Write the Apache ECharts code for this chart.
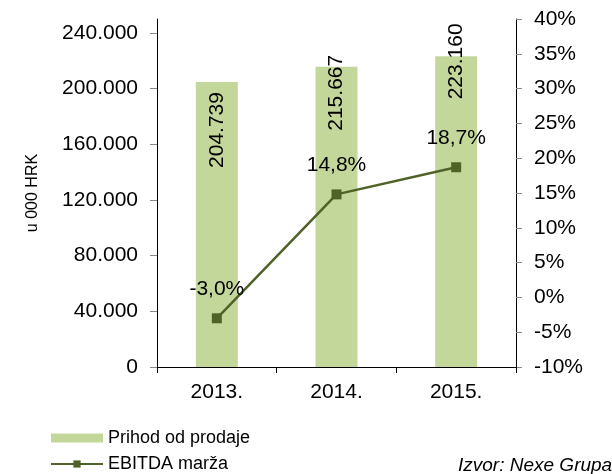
<!DOCTYPE html>
<html>
<head>
<meta charset="utf-8">
<script src="https://cdn.jsdelivr.net/npm/echarts@6/dist/echarts.min.js"></script>
<style>
  html, body { margin: 0; padding: 0; background: #fff; }
  #chart { width: 612px; height: 474px; }
</style>
</head>
<body>
<div id="chart"></div>
<script>
const years = ['2013.', '2014.', '2015.']
const revenue = [204739, 215667, 223160]
const ebitdaMargin = [-3.0, 14.8, 18.7]
const revenueName = 'Prihod od prodaje'
const marginName = 'EBITDA marža'
const leftTicks = [0, 40000, 80000, 120000, 160000, 200000, 240000]

// label offset from bar top (px), labels in the original are placed by hand
const barLabelTop = [48, 26, 5]

const FONT = '"Liberation Sans", Arial, sans-serif'
const BAR_COLOR = '#c4d79b'
const LINE_COLOR = '#4f6228'

function formatThousands(value) {
  return String(value).replace(/\B(?=(\d{3})+(?!\d))/g, '.')
}

let chart = echarts.init(document.getElementById('chart'))

chart.setOption({
  backgroundColor: '#fff',
  animation: false,
  textStyle: { fontFamily: FONT },
  grid: { left: 157, right: 96, top: 19, bottom: 107 },
  legend: {
    orient: 'vertical',
    left: 50,
    top: 429,
    padding: 0,
    itemWidth: 52,
    itemHeight: 9,
    itemGap: 8,
    textStyle: { fontFamily: FONT, fontSize: 18, color: '#000' },
    data: [{ name: revenueName, icon: 'rect' }, marginName]
  },
  graphic: [
    {
      type: 'text',
      left: 458,
      top: 456,
      style: {
        text: 'Izvor: Nexe Grupa',
        font: 'italic 19px ' + FONT,
        fill: '#000'
      }
    }
  ],
  xAxis: {
    type: 'category',
    data: years,
    axisLine: { lineStyle: { color: '#000', width: 1 } },
    axisTick: { show: true, length: 6, lineStyle: { color: '#000' } },
    axisLabel: { color: '#000', fontSize: 21, margin: 15 }
  },
  yAxis: [
    {
      type: 'value',
      min: 0,
      max: 250000,
      name: 'u 000 HRK',
      nameLocation: 'middle',
      nameGap: 116,
      nameTextStyle: { color: '#000', fontSize: 16 },
      axisLine: { show: true, lineStyle: { color: '#000' } },
      axisTick: { show: true, length: 7, customValues: leftTicks, lineStyle: { color: '#888' } },
      axisLabel: {
        color: '#000',
        fontSize: 21,
        margin: 19,
        customValues: leftTicks,
        formatter: value => formatThousands(value)
      },
      splitLine: { show: false }
    },
    {
      type: 'value',
      min: -10,
      max: 40,
      interval: 5,
      position: 'right',
      axisLine: { show: true, lineStyle: { color: '#000' } },
      axisTick: { show: true, length: 6, lineStyle: { color: '#888' } },
      axisLabel: {
        color: '#000',
        fontSize: 21,
        margin: 18,
        formatter: value => value + '%'
      },
      splitLine: { show: false }
    }
  ],
  series: [
    {
      name: revenueName,
      type: 'bar',
      yAxisIndex: 0,
      barWidth: 42,
      itemStyle: { color: BAR_COLOR },
      data: revenue.map((value, i) => ({
        value: value,
        label: {
          show: true,
          position: ['50%', barLabelTop[i]],
          rotate: 90,
          align: 'center',
          verticalAlign: 'middle',
          color: '#000',
          fontSize: 21,
          formatter: params => formatThousands(params.value)
        }
      }))
    },
    {
      name: marginName,
      type: 'line',
      yAxisIndex: 1,
      symbol: 'rect',
      symbolSize: 10,
      lineStyle: { color: LINE_COLOR, width: 2.5 },
      itemStyle: { color: LINE_COLOR },
      label: {
        show: true,
        position: 'top',
        distance: 14,
        color: '#000',
        fontSize: 21,
        formatter: params => params.value.toFixed(1).replace('.', ',') + '%'
      },
      data: ebitdaMargin
    }
  ]
})
</script>
</body>
</html>
